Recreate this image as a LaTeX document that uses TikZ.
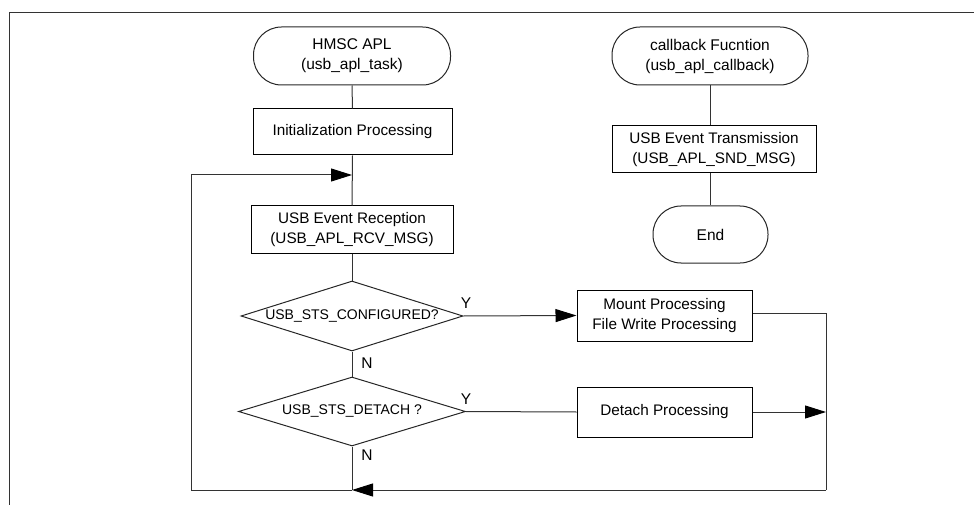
\documentclass[tikz,border=0pt]{standalone}
\usepackage{fontspec}
\setmainfont{Liberation Sans}
\usetikzlibrary{shapes.geometric,arrows.meta}
\begin{document}
\begin{tikzpicture}[x=1pt,y=-1pt,
  every node/.style={inner sep=0pt, align=center, text=black},
  termbox/.style={draw=black!85, line width=1pt, rounded corners=28pt, font=\fontsize{15.5}{20}\selectfont},
  procbox/.style={draw=black, line width=1pt, font=\fontsize{15.3}{20}\selectfont},
  decbox/.style={draw=black!85, line width=1pt, shape=diamond, shape aspect=3.2, font=\fontsize{14}{17}\selectfont},
  lbl/.style={font=\fontsize{15.5}{18}\selectfont},
  conn/.style={draw=black!80, line width=1pt},
  arr/.style={conn, -{Triangle[length=21pt,width=13pt,fill=black,color=black]}}
]
\useasboundingbox (0,0) rectangle (974,505);
% frame
\draw[black!80, line width=1pt] (9,505) -- (9,13) -- (974,13);

% main flow
\node[termbox, minimum width=197pt, minimum height=58pt] (hmsc) at (352,56) {HMSC APL\\(usb\_apl\_task)};
\node[procbox, minimum width=199pt, minimum height=46pt] (init) at (352.5,132) {Initialization Processing};
\node[procbox, minimum width=202pt, minimum height=47pt] (rcv) at (352,229.5) {USB Event Reception\\(USB\_APL\_RCV\_MSG)};
\node[decbox, minimum width=222pt, minimum height=70pt] (d1) at (352,316) {USB\_STS\_CONFIGURED?};
\node[decbox, minimum width=227pt, minimum height=69pt] (d2) at (352,411.5) {USB\_STS\_DETACH ?};
\node[procbox, minimum width=175pt, minimum height=51pt] (mount) at (664.5,315.5) {Mount Processing\\File Write Processing};
\node[procbox, minimum width=175pt, minimum height=50pt] (detach) at (664.5,412) {Detach Processing};

% callback flow
\node[termbox, minimum width=196pt, minimum height=58pt] (cb) at (710,56) {callback Fucntion\\(usb\_apl\_callback)};
\node[procbox, minimum width=204pt, minimum height=47pt] (snd) at (714,149.5) {USB Event Transmission\\(USB\_APL\_SND\_MSG)};
\node[termbox, minimum width=115pt, minimum height=57pt] (end) at (710.5,234.5) {End};

% labels
\node[lbl] (y1) at (466,303) {Y};
\node[lbl] (n1) at (367,363) {N};
\node[lbl] (y2) at (466,399) {Y};
\node[lbl] (n2) at (367,455) {N};

% coordinates
\coordinate (entry) at (352,175);
\coordinate (loopL) at (191,175);
\coordinate (botL) at (191,490);
\coordinate (botM) at (352,490);
\coordinate (rightTop) at (826,313);
\coordinate (rightMid) at (826,412);
\coordinate (rightBot) at (826,490);

% connectors
\draw[conn] (hmsc.south) -- (init.north);
\draw[conn] (init.south) -- (rcv.north);
\draw[conn] (rcv.south) -- (d1.north);
\draw[conn] (d1.south) -- (d2.north);
\draw[conn] (d2.south) -- (botM);
\draw[arr] (d1.east) -- (mount.west);
\draw[conn] (d2.east) -- (detach.west);
\draw[arr] (detach.east) -- (rightMid);
\draw[conn] (mount.east |- rightTop) -- (rightTop) -- (rightBot);
\draw[arr] (rightBot) -- (botM);
\draw[conn] (botM) -- (botL) -- (loopL);
\draw[arr] (loopL) -- (entry);

\draw[conn] (cb.south) -- (cb.south |- snd.north);
\draw[conn] (cb.south |- snd.south) -- (end.north -| cb.south);
\end{tikzpicture}
\end{document}
